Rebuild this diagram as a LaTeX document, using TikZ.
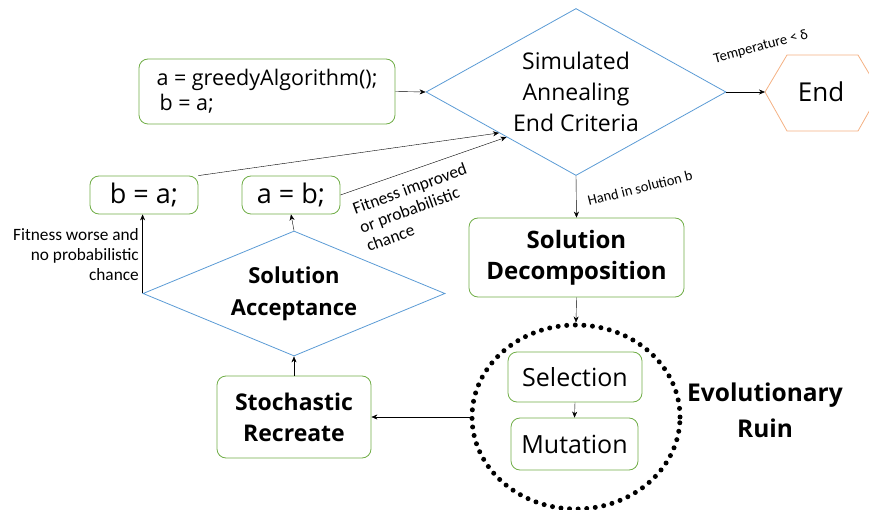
\documentclass[tikz,border=0pt]{standalone}
\usepackage{fontspec}
\setmainfont{Open Sans}
\newfontfamily\lblfont{Carlito}
\usetikzlibrary{shapes,shapes.geometric,arrows.meta,positioning}
\definecolor{boxgreen}{RGB}{112,173,71}
\definecolor{diamblue}{RGB}{91,155,213}
\definecolor{endorange}{RGB}{244,177,131}
\tikzset{
	greenbox/.style={draw=boxgreen,line width=0.8pt,rounded corners=9pt,align=center,inner sep=0pt},
	diam/.style={diamond,draw=diamblue,line width=0.8pt,align=center,inner sep=0pt},
	arr/.style={->,>={Stealth[length=6pt,width=5pt]},thin},
	lbl/.style={font=\lblfont\fontsize{17.3}{20}\selectfont,inner sep=0pt},
	boldtxt/.style={font=\bfseries\fontsize{24}{31}\selectfont},
}

\begin{document}
\begin{tikzpicture}[x=1pt,y=-1pt]
	\useasboundingbox (0,0) rectangle (869,510);
	\clip (0,0) rectangle (869,510);
	% annealing loop
	\node[diam,aspect=1.8,minimum width=300pt,minimum height=167pt,font=\fontsize{23}{31}\selectfont] (sa) at (576,92) {Simulated\\Annealing\\End Criteria};
	\node[greenbox,minimum width=256pt,minimum height=65pt,align=left,font=\fontsize{21.5}{25}\selectfont] (init) at (267,91.5) {a = greedyAlgorithm();\\\hspace{3pt}b = a;};
	\draw[arr] (init.east) -- (sa.west);
	% end state
	\node[font=\fontsize{26}{30}\selectfont] (endnode) at (821,92) {End};
	\draw[endorange,line width=0.8pt] (765,92) -- (787,55) -- (858,55) -- (880,92) -- (858,131) -- (787,131) -- cycle;
	\coordinate (endw) at (765,92);
	\draw[arr] (sa.east) -- (endw);
	\node[lbl,font=\lblfont\fontsize{14.5}{17}\selectfont,rotate=15] (temp) at (761,47) {Temperature < δ};
	% acceptance
	\node[greenbox,minimum width=108pt,minimum height=38pt,font=\fontsize{27}{30}\selectfont] (bnode) at (144,195) {b = a;};
	\node[greenbox,minimum width=98pt,minimum height=38pt,font=\fontsize{27}{30}\selectfont] (anode) at (291,195) {a = b;};
	\draw[arr] (bnode.north east) -- (sa.208);
	\draw[arr] (anode.east) -- (sa.213);
	\node[lbl,rotate=20,anchor=north west,align=left] (better) at (351,203) {Fitness improved\\or probabilistic\\chance};
	\node[diam,aspect=2.4,minimum width=302pt,minimum height=125pt,font=\bfseries\fontsize{22}{32}\selectfont] (acc) at (294,293.5) {Solution\\Acceptance};
	\draw[arr] (acc.north) -- (anode.south);
	\draw[arr] (acc.west) -- (acc.west |- bnode.south);
	\node[lbl,align=right,anchor=east] (worse) at (139,255) {Fitness worse and\\no probabilistic\\chance};
	% ruin and recreate
	\node[greenbox,minimum width=215pt,minimum height=79pt,boldtxt] (sd) at (576.5,257.5) {Solution\\Decomposition};
	\draw[arr] (sa.south) -- (sd.north);
	\node[lbl,font=\lblfont\fontsize{14.5}{17}\selectfont,rotate=14] (hand) at (640,188) {Hand in solution b};
	\node[ellipse,draw,line width=5pt,line cap=round,dash pattern=on 0pt off 8.6pt,minimum width=208pt,minimum height=184pt] (ruin) at (576,417) {};
	\node[greenbox,minimum width=134pt,minimum height=50pt,font=\fontsize{25}{28}\selectfont] (sel) at (575,377) {Selection};
	\node[greenbox,minimum width=127pt,minimum height=52pt,font=\fontsize{25}{28}\selectfont] (mut) at (574.5,444) {Mutation};
	\draw[arr] (sel.south) -- (mut.north);
	\draw[arr] (sd.south) -- (ruin.north);
	\node[boldtxt,font=\bfseries\fontsize{24.5}{36}\selectfont,align=center] (ruintxt) at (765,410) {Evolutionary\\Ruin};
	\node[greenbox,minimum width=154pt,minimum height=82pt,boldtxt,font=\bfseries\fontsize{23}{31}\selectfont] (sr) at (294,417) {Stochastic\\Recreate};
	\draw[arr] (ruin.west) -- (sr.east);
	\draw[arr] (sr.north) -- (acc.south);
\end{tikzpicture}
\end{document}
